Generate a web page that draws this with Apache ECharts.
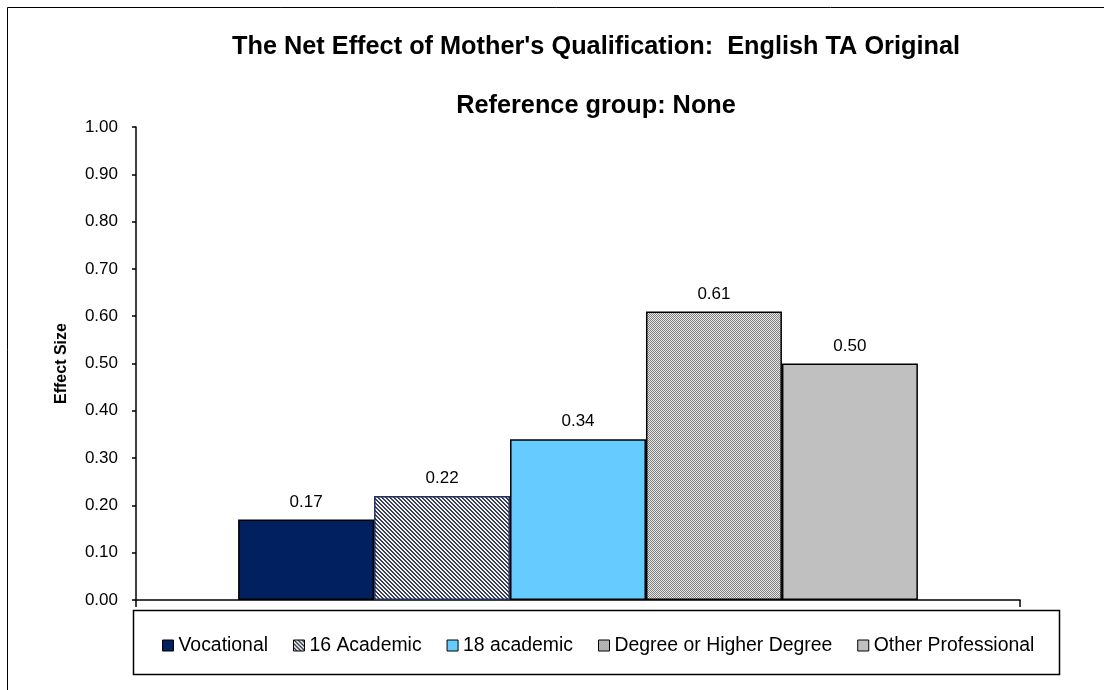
<!DOCTYPE html>
<html>
<head>
<meta charset="utf-8">
<script src="https://cdn.jsdelivr.net/npm/echarts@6/dist/echarts.min.js"></script>
<style>
  html, body { margin: 0; padding: 0; background: #fff; }
  #chart { width: 1104px; height: 690px; }
</style>
</head>
<body>
<div id="chart"></div>
<script>
    // values
    const groups = ['Vocational', '16 Academic', '18 academic', 'Degree or Higher Degree', 'Other Professional']
    const effects = [0.17, 0.22, 0.34, 0.61, 0.50]
    const yMin = 0, yMax = 1, yStep = 0.1

    // small tiled fills to mimic the excel hatch patterns
    function tile(size, draw) {
        let c = document.createElement('canvas')
        c.width = size
        c.height = size
        let ctx = c.getContext('2d')
        draw(ctx)
        return { image: c, repeat: 'repeat' }
    }
    const diagFill = tile(4, ctx => {
        ctx.fillStyle = '#f4f4f4'
        ctx.fillRect(0, 0, 4, 4)
        ctx.fillStyle = '#3a3f4f'
        for (let i = 0; i < 4; i++) {
            ctx.fillRect(i, i, 1, 1)
            ctx.fillRect((i + 1) % 4, i, 1, 1)
        }
    })
    const dotFill = tile(2, ctx => {
        ctx.fillStyle = '#e8e8e8'
        ctx.fillRect(0, 0, 2, 2)
        ctx.fillStyle = '#808080'
        ctx.fillRect(0, 0, 1, 1)
        ctx.fillRect(1, 1, 1, 1)
    })

    const fills = ['#002060', diagFill, '#66ccff', dotFill, '#c0c0c0']
    const borders = ['#000000', '#1f2f5f', '#000000', '#000000', '#000000']

    let series = groups.map((name, i) => {
        return {
            name: name,
            type: 'bar',
            data: [effects[i]],
            barGap: '0%',
            barCategoryGap: '23.1%',
            itemStyle: {
                color: fills[i],
                borderColor: borders[i],
                borderWidth: 1.5
            },
            label: {
                show: true,
                position: 'top',
                distance: 9,
                color: '#000',
                fontFamily: 'Liberation Sans',
                fontSize: 17,
                formatter: p => p.value.toFixed(2)
            },
            emphasis: { disabled: true }
        }
    })

    let option = {
        animation: false,
        backgroundColor: '#fff',
        textStyle: { fontFamily: 'Liberation Sans' },
        title: [{
            text: "The Net Effect of Mother's Qualification:  English TA Original",
            left: 591,
            top: 30,
            textAlign: 'center',
            textStyle: { fontSize: 25.3, fontWeight: 'bold', color: '#000', fontFamily: 'Liberation Sans' }
        }, {
            text: 'Reference group: None',
            left: 591,
            top: 89,
            textAlign: 'center',
            textStyle: { fontSize: 25.3, fontWeight: 'bold', color: '#000', fontFamily: 'Liberation Sans' }
        }],
        grid: { left: 136, right: 84, top: 127, bottom: 90, containLabel: false },
        legend: {
            data: groups,
            left: 162,
            top: 636,
            padding: 0,
            itemGap: 25,
            itemWidth: 11,
            itemHeight: 11,
            icon: 'rect',
            selectedMode: false,
            textStyle: { fontSize: 19.4, color: '#000', fontFamily: 'Liberation Sans' },
            itemStyle: { borderWidth: 1, borderColor: '#000' }
        },
        xAxis: {
            type: 'category',
            data: [''],
            axisLine: { lineStyle: { color: '#000', width: 1.5 } },
            axisTick: { show: true, length: 7, inside: false, lineStyle: { color: '#000', width: 1.5 } },
            axisLabel: { show: false },
            splitLine: { show: false }
        },
        yAxis: {
            type: 'value',
            min: yMin,
            max: yMax,
            interval: yStep,
            name: 'Effect Size',
            nameLocation: 'middle',
            nameRotate: 90,
            nameGap: 66,
            nameTextStyle: { fontSize: 16, fontWeight: 'bold', color: '#000', fontFamily: 'Liberation Sans' },
            axisLine: { show: true, lineStyle: { color: '#000', width: 1.5 } },
            axisTick: { show: true, length: 4, lineStyle: { color: '#000', width: 1.5 } },
            axisLabel: {
                margin: 18,
                fontSize: 17,
                color: '#000',
                fontFamily: 'Liberation Sans',
                formatter: v => v.toFixed(2)
            },
            splitLine: { show: false }
        },
        graphic: [{
            type: 'rect',
            silent: true,
            z: -1,
            shape: { x: 7.5, y: 7.5, width: 1110, height: 700 },
            style: { fill: 'none', stroke: '#000', lineWidth: 1 }
        }, {
            type: 'rect',
            silent: true,
            shape: { x: 133.5, y: 610.5, width: 926, height: 64 },
            style: { fill: 'none', stroke: '#000', lineWidth: 1.5 }
        }],
        series: series
    }

    let chart = echarts.init(document.getElementById('chart'))
    chart.setOption(option)
</script>
</body>
</html>
